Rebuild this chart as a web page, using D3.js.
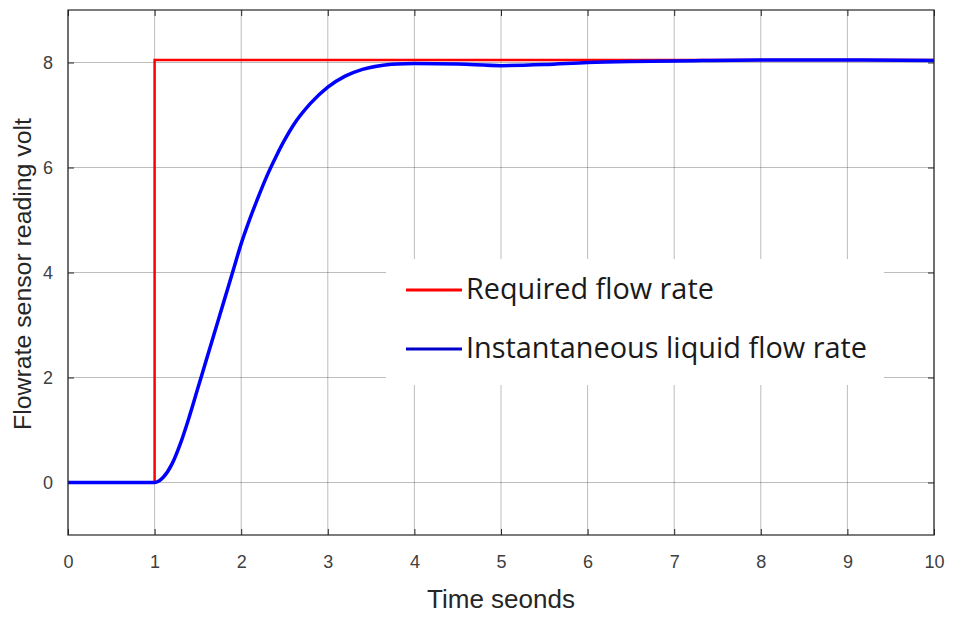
<!DOCTYPE html>
<html>
<head>
<meta charset="utf-8">
<script src="https://cdn.jsdelivr.net/npm/d3@7"></script>
<style>
  body { margin: 0; background: #fff; }
  svg { display: block; }
</style>
</head>
<body>
<svg id="chart" width="956" height="619"></svg>
<script>
// ---- data ----
const xTicks = [0,1,2,3,4,5,6,7,8,9,10];
const yTicks = [0,2,4,6,8];
const requiredT = [0, 1, 1, 10];
const requiredV = [0, 0, 8.05, 8.05];
const flowT = [0,1,1.05,1.1,1.2,1.3,1.4,1.5,1.6,1.7,1.8,1.9,2.0,2.1,2.2,2.3,2.4,2.5,2.6,2.8,3.0,3.2,3.4,3.6,3.8,4.0,4.5,5.0,5.5,6.0,6.5,7.0,8.0,9.0,10];
const flowV = [0,0,0.03,0.1,0.35,0.75,1.25,1.8,2.35,2.9,3.45,4.0,4.55,5.02,5.45,5.85,6.2,6.52,6.8,7.22,7.53,7.74,7.87,7.94,7.97,7.98,7.97,7.94,7.96,8.0,8.02,8.03,8.05,8.05,8.04];
const seriesNames = ["Required flow rate", "Instantaneous liquid flow rate"];
const xLabel = "Time seonds";
const yLabel = "Flowrate sensor reading volt";

// ---- layout ----
const svg = d3.select("#chart");
const L = 68, R = 934, T = 10, B = 535;
const x = d3.scaleLinear().domain([0, 10]).range([L, R]);
const y = d3.scaleLinear().domain([-1, 9]).range([B, T]);

// grid
const g = svg.append("g");
g.selectAll(".vg").data(xTicks).enter().append("line")
  .attr("x1", d => x(d)).attr("x2", d => x(d)).attr("y1", T).attr("y2", B)
  .attr("stroke", "#262626").attr("stroke-opacity", 0.3).attr("stroke-width", 1);
g.selectAll(".hg").data(yTicks).enter().append("line")
  .attr("x1", L).attr("x2", R).attr("y1", d => y(d)).attr("y2", d => y(d))
  .attr("stroke", "#262626").attr("stroke-opacity", 0.3).attr("stroke-width", 1);

// axes (inward ticks on all sides)
const fontTick = "Liberation Sans, Arial, sans-serif";
const axB = svg.append("g").attr("transform", `translate(0,${B})`)
  .call(d3.axisBottom(x).tickValues(xTicks).tickSize(-6).tickPadding(20).tickFormat(d3.format("d")));
const axT = svg.append("g").attr("transform", `translate(0,${T})`)
  .call(d3.axisTop(x).tickValues(xTicks).tickSize(-6).tickFormat(""));
const axL = svg.append("g").attr("transform", `translate(${L},0)`)
  .call(d3.axisLeft(y).tickValues(yTicks).tickSize(-6).tickPadding(15).tickFormat(d3.format("d")));
const axR = svg.append("g").attr("transform", `translate(${R},0)`)
  .call(d3.axisRight(y).tickValues(yTicks).tickSize(-6).tickFormat(""));
[axB, axT, axL, axR].forEach(a => {
  a.select(".domain").remove();
  a.selectAll(".tick line").attr("stroke", "#262626").attr("stroke-width", 1);
  a.selectAll("text").attr("font-family", fontTick).attr("font-size", 18).attr("fill", "#404040");
});

// lines
const reqData = requiredT.map((t, i) => [t, requiredV[i]]);
const flowData = flowT.map((t, i) => [t, flowV[i]]);
svg.append("path").datum(reqData)
  .attr("d", d3.line().x(d => x(d[0])).y(d => y(d[1])))
  .attr("fill", "none").attr("stroke", "#ff0000").attr("stroke-width", 2.5);
svg.append("path").datum(flowData)
  .attr("d", d3.line().x(d => x(d[0])).y(d => y(d[1])).curve(d3.curveMonotoneX))
  .attr("fill", "none").attr("stroke", "#0000ff").attr("stroke-width", 3.5).attr("stroke-linejoin", "round");

// box
svg.append("rect").attr("x", L).attr("y", T).attr("width", R - L).attr("height", B - T)
  .attr("fill", "none").attr("stroke", "#262626").attr("stroke-width", 1.2);

// legend
const lg = svg.append("g");
lg.append("rect").attr("x", 386).attr("y", 259).attr("width", 498).attr("height", 126).attr("fill", "#fff");
const legendColors = ["#ff0000", "#0000c8"];
const legendY = [290, 349];
const legendW = [248, 401];
seriesNames.forEach((name, i) => {
  lg.append("line").attr("x1", 406).attr("x2", 462).attr("y1", legendY[i]).attr("y2", legendY[i])
    .attr("stroke", legendColors[i]).attr("stroke-width", 3);
  const t = lg.append("text").attr("x", 466).attr("y", legendY[i] + 9)
    .attr("font-family", "Open Sans, sans-serif").attr("font-size", 24).attr("fill", "#1a1a1a")
    .text(name);
  const w = t.node().getComputedTextLength();
  t.attr("font-size", 24 * legendW[i] / w);
});

// axis labels (sized to the reference widths)
const xl = svg.append("text").attr("x", (L + R) / 2).attr("y", 608).attr("text-anchor", "middle")
  .attr("font-family", fontTick).attr("font-size", 20).attr("fill", "#262626").text(xLabel);
xl.attr("font-size", 20 * 148 / xl.node().getComputedTextLength());
const yl = svg.append("text").attr("transform", `translate(31,274) rotate(-90)`)
  .attr("text-anchor", "middle")
  .attr("font-family", fontTick).attr("font-size", 19).attr("fill", "#262626").text(yLabel);
yl.attr("font-size", 19 * 312 / yl.node().getComputedTextLength());
</script>
</body>
</html>
